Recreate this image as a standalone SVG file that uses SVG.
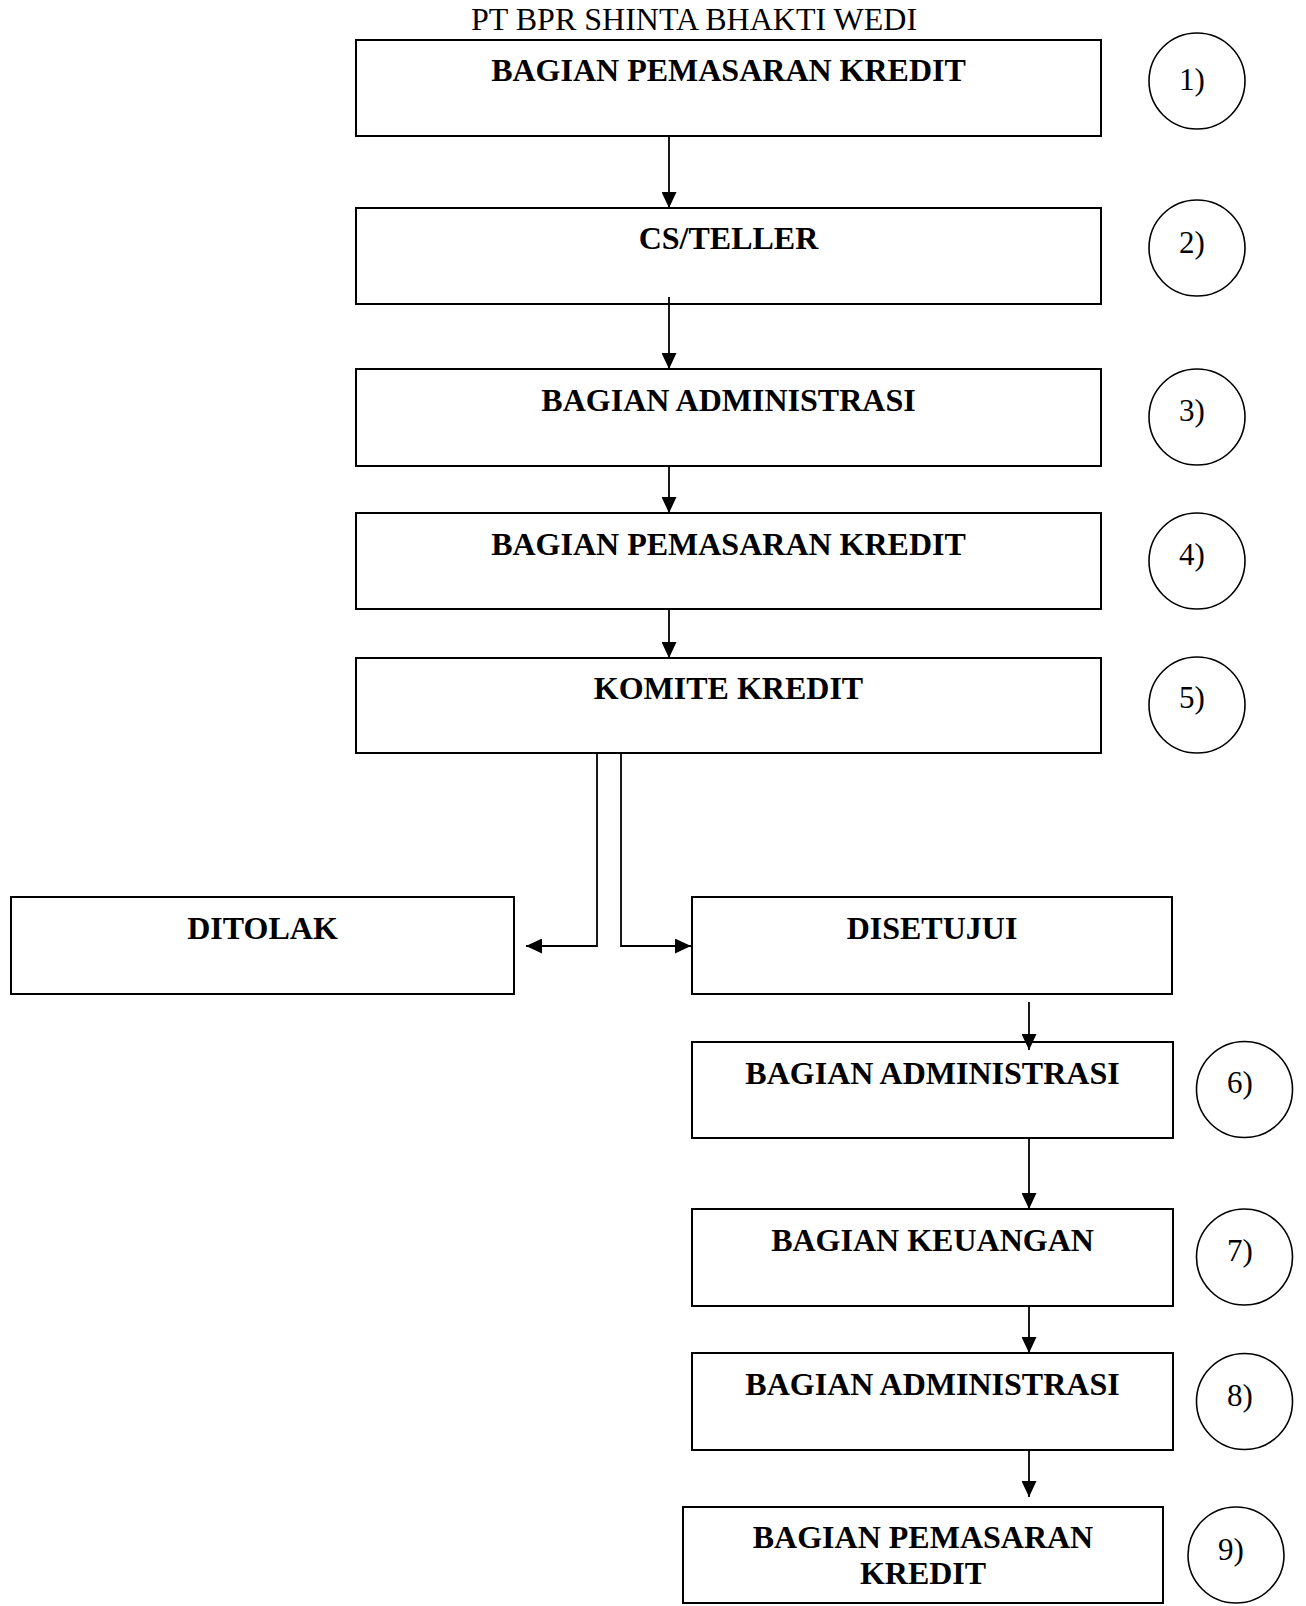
<svg xmlns="http://www.w3.org/2000/svg" width="1306" height="1606" viewBox="0 0 1306 1606">
  <style>
    .box { fill: #ffffff; stroke: #000000; stroke-width: 2; }
    .step { fill: #ffffff; stroke: #000000; stroke-width: 1.6; }
    .lbl { font-family: "Liberation Serif", "Times New Roman", serif; font-size: 32px; font-weight: bold; fill: #000000; text-anchor: middle; }
    .num { font-family: "Liberation Serif", "Times New Roman", serif; font-size: 31px; fill: #000000; }
    .title { font-family: "Liberation Serif", "Times New Roman", serif; font-size: 32px; fill: #000000; text-anchor: middle; }
    .conn { fill: none; stroke: #000000; stroke-width: 1.8; }
  </style>
  <defs>
    <marker id="arrow" markerUnits="userSpaceOnUse" markerWidth="16" markerHeight="15" refX="16" refY="7.5" orient="auto">
      <path d="M0,0 L16,7.5 L0,15 Z" fill="#000000"/>
    </marker>
  </defs>
  <rect width="1306" height="1606" fill="#ffffff"/>

  <text class="title" x="694" y="30">PT BPR SHINTA BHAKTI WEDI</text>

  <!-- process boxes -->
  <g id="node-1">
    <rect class="box" x="356" y="40" width="745" height="96"/>
    <text class="lbl" x="728.5" y="81">BAGIAN PEMASARAN KREDIT</text>
  </g>
  <g id="node-2">
    <rect class="box" x="356" y="208" width="745" height="96"/>
    <text class="lbl" x="728.5" y="249">CS/TELLER</text>
  </g>
  <g id="node-3">
    <rect class="box" x="356" y="369" width="745" height="97"/>
    <text class="lbl" x="728.5" y="411">BAGIAN ADMINISTRASI</text>
  </g>
  <g id="node-4">
    <rect class="box" x="356" y="513" width="745" height="96"/>
    <text class="lbl" x="728.5" y="555">BAGIAN PEMASARAN KREDIT</text>
  </g>
  <g id="node-5">
    <rect class="box" x="356" y="658" width="745" height="95"/>
    <text class="lbl" x="728.5" y="699">KOMITE KREDIT</text>
  </g>
  <g id="node-ditolak">
    <rect class="box" x="11" y="897" width="503" height="97"/>
    <text class="lbl" x="262.5" y="939">DITOLAK</text>
  </g>
  <g id="node-disetujui">
    <rect class="box" x="692" y="897" width="480" height="97"/>
    <text class="lbl" x="932" y="939">DISETUJUI</text>
  </g>
  <g id="node-6">
    <rect class="box" x="692" y="1042" width="481" height="96"/>
    <text class="lbl" x="932.5" y="1084">BAGIAN ADMINISTRASI</text>
  </g>
  <g id="node-7">
    <rect class="box" x="692" y="1209" width="481" height="97"/>
    <text class="lbl" x="932.5" y="1251">BAGIAN KEUANGAN</text>
  </g>
  <g id="node-8">
    <rect class="box" x="692" y="1353" width="481" height="97"/>
    <text class="lbl" x="932.5" y="1395">BAGIAN ADMINISTRASI</text>
  </g>
  <g id="node-9">
    <rect class="box" x="683" y="1507" width="480" height="96"/>
    <text class="lbl" x="923" y="1548">BAGIAN PEMASARAN</text>
    <text class="lbl" x="923" y="1584">KREDIT</text>
  </g>

  <!-- step numbers -->
  <g id="step-1"><circle class="step" cx="1197" cy="81" r="48"/><text class="num" x="1179" y="90">1)</text></g>
  <g id="step-2"><circle class="step" cx="1197" cy="248" r="48"/><text class="num" x="1179" y="253">2)</text></g>
  <g id="step-3"><circle class="step" cx="1197" cy="417" r="48"/><text class="num" x="1179" y="421">3)</text></g>
  <g id="step-4"><circle class="step" cx="1197" cy="561" r="48"/><text class="num" x="1179" y="565">4)</text></g>
  <g id="step-5"><circle class="step" cx="1197" cy="705" r="48"/><text class="num" x="1179" y="708">5)</text></g>
  <g id="step-6"><circle class="step" cx="1244.5" cy="1089.5" r="48"/><text class="num" x="1227" y="1093">6)</text></g>
  <g id="step-7"><circle class="step" cx="1244.5" cy="1257" r="48"/><text class="num" x="1227" y="1261">7)</text></g>
  <g id="step-8"><circle class="step" cx="1244.5" cy="1401.5" r="48"/><text class="num" x="1227" y="1406">8)</text></g>
  <g id="step-9"><circle class="step" cx="1236" cy="1555" r="48"/><text class="num" x="1218" y="1560">9)</text></g>

  <!-- connectors, drawn over the boxes -->
  <g id="connectors">
    <line class="conn" x1="669" y1="136" x2="669" y2="208" marker-end="url(#arrow)"/>
    <line class="conn" x1="669" y1="297" x2="669" y2="369" marker-end="url(#arrow)"/>
    <line class="conn" x1="669" y1="466" x2="669" y2="513" marker-end="url(#arrow)"/>
    <line class="conn" x1="669" y1="609" x2="669" y2="658" marker-end="url(#arrow)"/>
    <polyline class="conn" points="597,753 597,946 526,946" marker-end="url(#arrow)"/>
    <polyline class="conn" points="621,753 621,946 691,946" marker-end="url(#arrow)"/>
    <line class="conn" x1="1029" y1="1002" x2="1029" y2="1050" marker-end="url(#arrow)"/>
    <line class="conn" x1="1029" y1="1138" x2="1029" y2="1209" marker-end="url(#arrow)"/>
    <line class="conn" x1="1029" y1="1306" x2="1029" y2="1353" marker-end="url(#arrow)"/>
    <line class="conn" x1="1029" y1="1450" x2="1029" y2="1497" marker-end="url(#arrow)"/>
  </g>
</svg>
